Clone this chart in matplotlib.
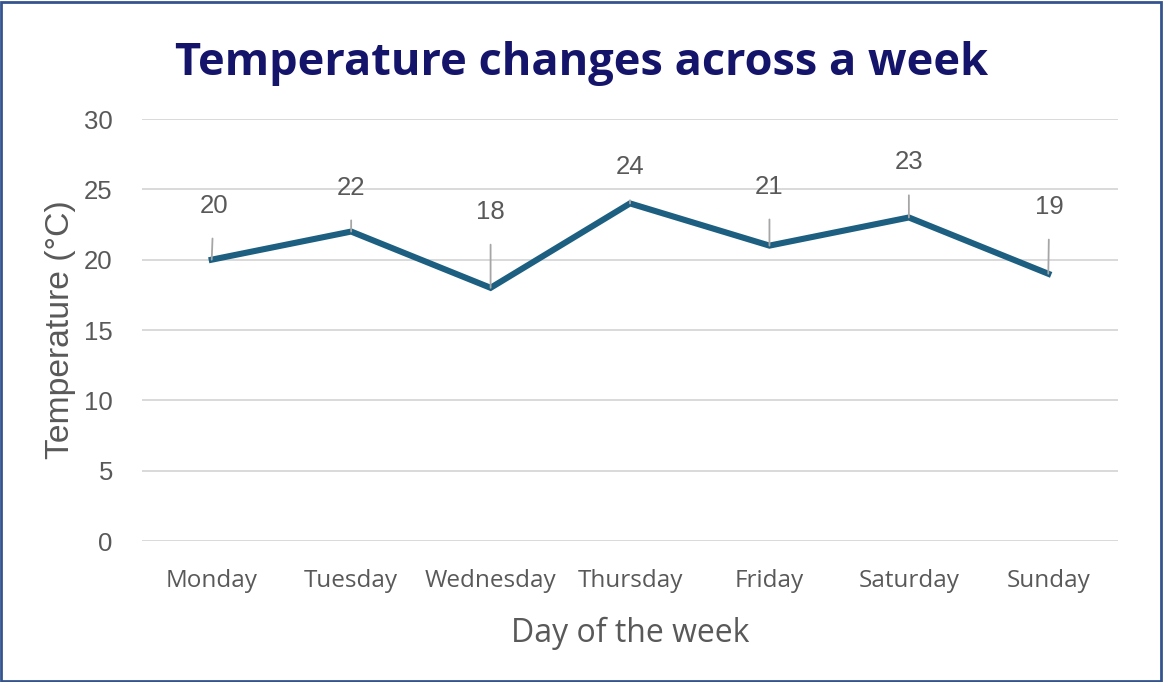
import matplotlib.pyplot as plt
from matplotlib.patches import Rectangle

days = ["Monday", "Tuesday", "Wednesday", "Thursday", "Friday", "Saturday", "Sunday"]
temps = [20, 22, 18, 24, 21, 23, 19]
y_ticks = [0, 5, 10, 15, 20, 25, 30]

# label offsets in pixels (dx, dy) from each point, like the excel leader labels
label_off = [(2, 54), (0, 44), (0, 76), (0, 36), (0, 59), (0, 55), (1, 67)]

line_col = "#1D5F80"
grey = "#595959"

fig = plt.figure(figsize=(11.64, 6.82), dpi=100)
ax = fig.add_axes([0.122, 0.2067, 0.8385, 0.6188])

x = list(range(len(days)))
ax.plot(x, temps, color=line_col, linewidth=4.4, solid_joinstyle="miter", zorder=3)

for i, t in enumerate(temps):
    dx, dy = label_off[i]
    ax.annotate(str(t), xy=(i, t), xytext=(dx, dy), textcoords="offset pixels",
                ha="center", va="center", fontsize=18.5, color=grey,
                family="Liberation Sans",
                arrowprops=dict(arrowstyle="-", color="#A6A6A6", lw=1.3,
                                shrinkA=13, shrinkB=0))

ax.set_xlim(-0.5, 6.5)
ax.set_ylim(0, 30)
ax.set_yticks(y_ticks)
ax.set_xticks(x)
ax.set_xticklabels(days, family="Open Sans", fontsize=17.5, color=grey)
for lab in ax.get_yticklabels():
    lab.set_family("Liberation Sans")
    lab.set_fontsize(18.5)
    lab.set_color(grey)
ax.tick_params(length=0)
ax.tick_params(axis="x", pad=20)
ax.tick_params(axis="y", pad=21)
ax.grid(axis="y", color="#D9D9D9", linewidth=1.4)
ax.set_axisbelow(True)
for s in ax.spines.values():
    s.set_visible(False)

ax.set_xlabel("Day of the week", family="Open Sans", fontsize=23, color=grey, labelpad=17)
ax.set_ylabel("Temperature (°C)", family="Liberation Sans", fontsize=24.3, color=grey, labelpad=6)

fig.text(0.5, 0.907, "Temperature changes across a week", ha="center", va="center",
         family="Open Sans", fontweight="bold", fontsize=32.5, color="#14146B")

fig.patches.append(Rectangle((0.001, 0.002), 0.996, 0.995, transform=fig.transFigure,
                             fill=False, edgecolor="#34548F", linewidth=2))

fig.savefig("out.png", dpi=100)
